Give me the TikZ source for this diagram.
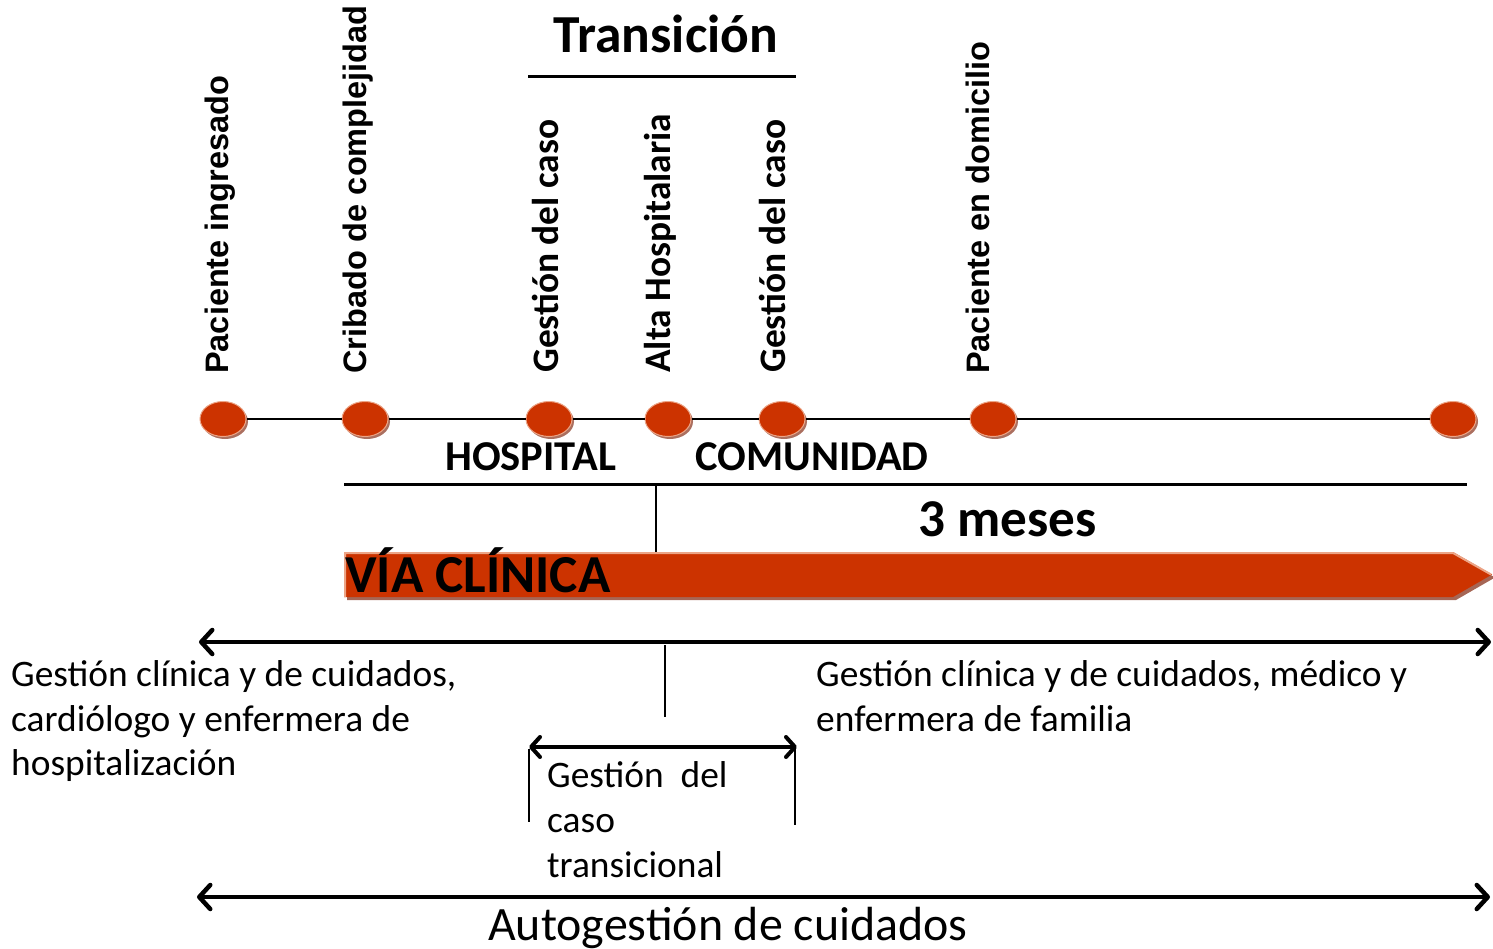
\documentclass[tikz,border=0pt]{standalone}
\usepackage{fontspec}
\setmainfont{Carlito}
\newfontfamily\arialf{Liberation Sans}
\usetikzlibrary{shapes.geometric,arrows.meta,shadows}
\definecolor{vred}{RGB}{204,51,0}
\definecolor{vlight}{RGB}{236,165,135}
\definecolor{vshadow}{RGB}{150,75,55}
\begin{document}
\begin{tikzpicture}[x=1pt,y=-1pt,
  dot/.style={ellipse,fill=vred,draw=vlight,line width=1pt,minimum width=46pt,minimum height=35pt,inner sep=0pt,
    drop shadow={shadow xshift=2pt,shadow yshift=-2.5pt,fill=vshadow,opacity=0.8}},
  vlab/.style={rotate=90,anchor=base west,inner sep=0pt,font=\fontsize{37.4}{44}\selectfont\bfseries},
  vlabA/.style={rotate=90,anchor=base west,inner sep=0pt,font=\arialf\fontsize{32.5}{38}\selectfont\bfseries},
  txt/.style={anchor=base west,inner sep=0pt,font=\fontsize{37.4}{45}\selectfont},
  btxt/.style={anchor=base west,inner sep=0pt,font=\fontsize{42.5}{48}\selectfont\bfseries},
  thin/.style={line width=2pt},
  barb/.style={Straight Barb[length=11pt,width=24pt,line cap=round,line join=round]},
  bigarrow/.style={line width=4.5pt,{Straight Barb[length=11pt,width=24pt,line cap=round,line join=round]}-{Straight Barb[length=11pt,width=24pt,line cap=round,line join=round]}}
]
\useasboundingbox (0,0) rectangle (1493,949);

% Title
\node[anchor=base,inner sep=0pt,font=\fontsize{53.5}{60}\selectfont\bfseries] (title) at (666,53) {Transición};
\coordinate (tl) at (528,76.5);
\coordinate (tr) at (796,76.5);
\draw[line width=2.5pt] (tl) -- (tr);

% Vertical labels
\node[vlabA] (v1) at (228,374) {Paciente ingresado};
\node[vlabA] (v2) at (366,374) {Cribado de complejidad};
\node[vlab] (v3) at (558,373) {Gestión del caso};
\node[vlab] (v4) at (670,373) {Alta Hospitalaria};
\node[vlab] (v5) at (785,373) {Gestión del caso};
\node[vlabA] (v6) at (989,374) {Paciente en domicilio};

% Timeline dots
\node[dot] (e1) at (223,419) {};
\node[dot] (e2) at (365,419) {};
\node[dot] (e3) at (549,419) {};
\node[dot] (e4) at (668,419) {};
\node[dot] (e5) at (782,419) {};
\node[dot] (e6) at (993,419) {};
\node[dot] (e7) at (1453,419) {};
\draw[line width=1.6pt] (e1) -- (e2);
\draw[line width=1.6pt] (e2) -- (e3);
\draw[line width=1.6pt] (e3) -- (e4);
\draw[line width=1.6pt] (e4) -- (e5);
\draw[line width=1.6pt] (e5) -- (e6);
\draw[line width=1.6pt] (e6) -- (e7);

% Hospital / Comunidad
\node[btxt] (hosp) at (445,470) {HOSPITAL};
\node[btxt] (comu) at (695,470) {COMUNIDAD};
\coordinate (h1) at (344,484.5);
\coordinate (h2) at (1467,484.5);
\coordinate (hk) at (656,484.5);
\coordinate (hb) at (656,552);
\draw[line width=2.5pt] (h1) -- (h2);
\draw[thin] (hk) -- (hb);
\node[anchor=base west,inner sep=0pt,font=\fontsize{53.2}{60}\selectfont\bfseries] (meses) at (918,536) {3 meses};

% Via clinica bar
\fill[vshadow,opacity=0.85] (347,555) -- (1456,555) -- (1495,577.5) -- (1456,600) -- (347,600) -- cycle;
\fill[vred] (344,552) -- (1453,552) -- (1492,574.5) -- (1453,597) -- (344,597) -- cycle;
\draw[vlight,line width=2pt] (345,597) -- (345,553) -- (1453,553) -- (1491,574.5);
\node[anchor=base west,inner sep=0pt,font=\fontsize{53.4}{60}\selectfont\bfseries] (via) at (345,592) {VÍA CLÍNICA};

% Main double arrow
\coordinate (a1l) at (199,642);
\coordinate (a1r) at (1491,642);
\draw[bigarrow] (a1l) -- (a1r);
\coordinate (k1) at (665,645);
\coordinate (k2) at (665,717);
\draw[thin] (k1) -- (k2);

% Left text
\node[txt] (l1) at (11,686) {Gestión clínica y de cuidados,};
\node[txt] (l2) at (11,731) {cardiólogo y enfermera de};
\node[txt] (l3) at (11,775) {hospitalización};

% Right text
\node[txt] (r1) at (816,686) {Gestión clínica y de cuidados, médico y};
\node[txt] (r2) at (816,731) {enfermera de familia};

% Small transition arrow
\coordinate (s1l) at (529,747);
\coordinate (s1r) at (797,747);
\draw[line width=4pt,{Straight Barb[length=9pt,width=20pt,line cap=round,line join=round]}-{Straight Barb[length=9pt,width=20pt,line cap=round,line join=round]}] (s1l) -- (s1r);
\coordinate (b1t) at (529,749);
\coordinate (b1b) at (529,822);
\coordinate (b2t) at (795,749);
\coordinate (b2b) at (795,825);
\draw[thin] (b1t) -- (b1b);
\draw[thin] (b2t) -- (b2b);
\node[txt] (g1) at (547,787) {Gestión\ \ del};
\node[txt] (g2) at (547,832) {caso};
\node[txt] (g3) at (547,877) {transicional};

% Bottom arrow
\coordinate (a2l) at (197,897);
\coordinate (a2r) at (1490,897);
\draw[bigarrow] (a2l) -- (a2r);
\node[anchor=base west,inner sep=0pt,font=\fontsize{47.9}{54}\selectfont] (auto) at (488,940) {Autogestión de cuidados};
\end{tikzpicture}
\end{document}
